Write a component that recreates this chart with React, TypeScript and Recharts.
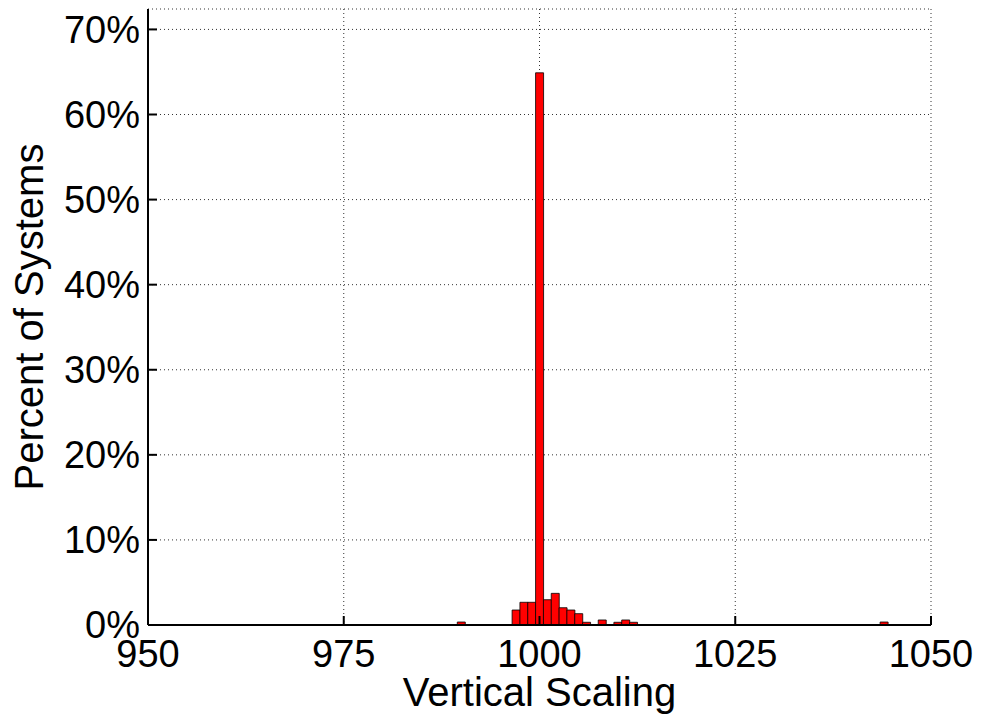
import { BarChart, Bar, XAxis, YAxis, CartesianGrid } from "recharts"

// histogram bins (integer centres) and percent of systems in each
const bins = [990, 997, 998, 999, 1000, 1001, 1002, 1003, 1004, 1005, 1006, 1008, 1010, 1011, 1012, 1044]
const percents = [0.35, 1.76, 2.67, 2.67, 64.9, 2.97, 3.72, 2.03, 1.76, 1.33, 0.32, 0.59, 0.32, 0.59, 0.32, 0.35]

const xTicks = [950, 975, 1000, 1025, 1050]
const yTicks = [0, 10, 20, 30, 40, 50, 60, 70]

const data = bins.map((b, i) => ({ bin: b, pct: percents[i] }))

const FONT = "'Liberation Sans', Arial, Helvetica, sans-serif"
const tickStyle = { fontSize: 38, fill: "#000" }
const axisLine = { stroke: "#000", strokeWidth: 2 }

function YLabel({ viewBox }: { viewBox?: { x: number; y: number; width: number; height: number } }) {
  if (!viewBox) return null
  const x = viewBox.x + 43
  const y = viewBox.y + viewBox.height / 2
  return (
    <text x={x} y={y} transform={`rotate(-90, ${x}, ${y})`} textAnchor="middle" fontSize={40} fill="#000">
      Percent of Systems
    </text>
  )
}

function XLabel({ viewBox }: { viewBox?: { x: number; y: number; width: number; height: number } }) {
  if (!viewBox) return null
  return (
    <text x={viewBox.x + viewBox.width / 2} y={viewBox.y + 81} textAnchor="middle" fontSize={40} fill="#000">
      Vertical Scaling
    </text>
  )
}

export default function App() {
  return (
    <div style={{ position: "absolute", left: 0, top: 0, background: "#fff", fontFamily: FONT }}>
      <BarChart
        width={984}
        height={723}
        data={data}
        margin={{ top: 9, right: 53, bottom: 8, left: 0 }}
        barCategoryGap={0}
      >
        <CartesianGrid stroke="#333" strokeDasharray="1 3" strokeWidth={1} />
        <XAxis
          dataKey="bin"
          type="number"
          domain={[950, 1050]}
          ticks={xTicks}
          allowDataOverflow
          height={90}
          tick={tickStyle}
          tickSize={-9}
          tickMargin={24}
          tickLine={axisLine}
          axisLine={axisLine}
          label={<XLabel />}
        />
        <XAxis
          xAxisId="top"
          orientation="top"
          type="number"
          domain={[950, 1050]}
          ticks={xTicks}
          height={0}
          tick={false}
          tickSize={-9}
          tickLine={axisLine}
          axisLine={axisLine}
        />
        <YAxis
          type="number"
          domain={[0, 72.4]}
          ticks={yTicks}
          allowDataOverflow
          width={148}
          tick={tickStyle}
          tickFormatter={(v: number) => `${v}%`}
          tickSize={-9}
          tickMargin={17}
          tickLine={axisLine}
          axisLine={axisLine}
          label={<YLabel />}
        />
        <YAxis
          yAxisId="right"
          orientation="right"
          type="number"
          domain={[0, 72.4]}
          ticks={yTicks}
          width={0}
          tick={false}
          tickSize={-9}
          tickLine={axisLine}
          axisLine={axisLine}
        />
        <Bar dataKey="pct" fill="#ff0000" stroke="#000" strokeWidth={0.8} isAnimationActive={false} />
      </BarChart>
    </div>
  )
}
